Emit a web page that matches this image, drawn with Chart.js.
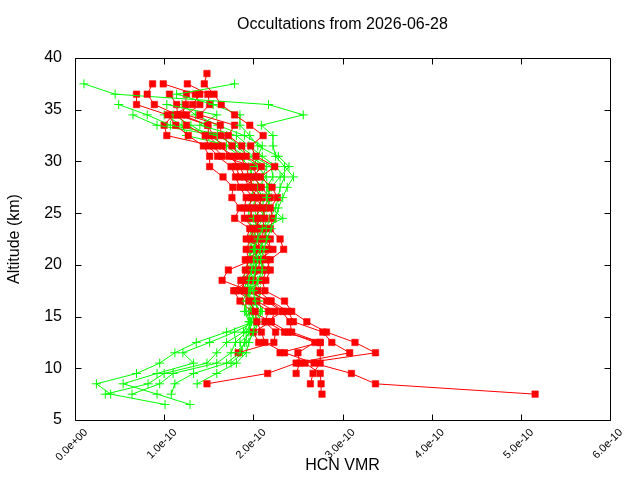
<!DOCTYPE html>
<html><head><meta charset="utf-8">
<script src="https://cdn.jsdelivr.net/npm/chart.js@4"></script>
<style>html,body{margin:0;padding:0;background:#fff}</style>
</head><body><canvas id="c" width="640" height="480"></canvas>
<script>
// HCN VMR values are given in units of 1e-10
const UNIT = 1e-10;
const redAlt = [7.5,8.5,9.5,10.5,11.5,12.5,13.5,14.5,15.5,16.5,17.5,18.5,19.5,20.5,21.5,22.5,23.5,24.5,25.5,26.5,27.5,28.5,29.5,30.5,31.5,32.5,33.5,34.5,35.5,36.5,37.5,38.5];
const red1 = [5.16,3.37,3.10,2.68,2.35,2.13,2.09,2.04,2.02,1.95,1.90,1.88,1.91,1.95,1.92,1.97,2.00,1.90,1.90,1.92,1.85,1.80,1.75,1.60,1.50,1.46,1.25,1.15,0.89,0.81,0.87,null];
const red2 = [2.77,2.76,2.75,2.58,3.37,3.14,2.82,2.60,2.43,2.35,2.13,2.10,2.15,2.19,2.34,2.30,2.19,2.22,2.19,2.27,2.21,2.08,2.24,2.03,1.97,2.11,1.96,1.79,1.64,1.56,1.45,1.48];
const red3 = [null,1.48,2.16,2.48,3.08,2.88,2.78,2.45,2.39,2.20,2.05,2.00,2.05,2.08,2.22,2.10,2.10,2.13,2.11,2.19,2.09,2.00,2.09,1.92,1.87,1.72,1.79,1.40,1.51,1.49,1.26,null];
const red4 = [null,2.64,2.67,2.75,2.75,2.75,2.43,2.41,2.32,2.15,1.95,1.65,1.72,2.00,2.07,2.05,2.05,2.05,2.05,2.10,2.00,1.95,1.92,1.85,1.76,1.64,1.63,1.25,1.40,1.35,0.99,null];
const red5 = [null,null,2.48,2.52,2.50,2.69,2.39,2.20,2.24,2.04,1.85,1.92,1.96,1.91,2.12,1.92,1.96,1.79,1.85,1.76,1.77,1.66,1.51,1.51,1.44,1.27,1.13,1.04,0.69,0.69,null,null];
const red6 = [null,null,null,null,1.83,2.23,2.25,2.13,2.17,2.00,1.80,1.86,2.00,2.05,2.00,2.15,2.13,1.95,2.00,2.05,1.95,1.90,1.85,1.73,1.65,1.55,1.49,1.20,1.24,1.25,null,null];
const red7 = [null,null,null,null,null,2.06,2.00,2.20,1.98,1.85,1.78,1.95,2.10,2.10,2.17,2.19,2.06,2.00,1.95,1.98,2.05,1.85,1.80,1.79,1.60,1.50,1.49,1.15,1.14,1.06,null,null];
const red8 = [null,null,null,null,2.30,2.75,2.35,2.15,2.33,2.19,1.90,2.14,2.19,2.15,2.07,2.00,2.02,2.08,2.14,2.00,1.90,2.04,2.00,1.65,1.55,1.03,1.00,1.10,1.32,1.40,null,null];

const greenAlt = [6.5,7.5,8.5,9.5,10.5,11.5,12.5,13.5,14.5,15.5,16.5,17.5,18.5,19.5,20.5,21.5,22.5,23.5,24.5,25.5,26.5,27.5,28.5,29.5,30.5,31.5,32.5,33.5,34.5,35.5,36.5,37.5];
const green1 = [1.01,0.40,0.24,0.69,0.95,1.12,1.36,1.70,2.00,2.05,2.02,2.00,2.05,2.10,2.08,2.12,2.15,2.20,2.25,2.28,2.33,2.38,2.45,2.35,2.25,2.22,2.22,2.09,2.56,2.17,0.45,0.10];
const green2 = [1.29,0.92,0.54,0.92,1.33,1.21,1.51,1.79,2.02,1.98,1.95,1.97,2.00,2.02,2.05,2.00,2.05,2.10,2.33,2.20,2.15,2.20,2.30,2.40,2.28,2.05,1.96,1.85,1.85,1.55,1.14,1.79];
const green3 = [null,0.34,0.82,1.00,1.48,1.59,1.70,1.89,1.95,1.90,1.92,1.95,1.98,2.05,2.00,2.08,2.12,2.15,2.18,2.25,2.28,2.30,2.35,2.25,2.10,1.95,1.81,1.40,1.59,1.03,null,null];
const green4 = [null,0.64,0.95,1.10,1.59,1.75,1.80,1.92,1.98,2.00,1.98,1.92,1.95,1.98,2.03,2.10,2.08,2.05,2.10,2.15,2.20,2.15,2.22,2.20,2.00,1.85,1.70,1.07,0.81,0.49,null,null];
const green5 = [null,1.08,1.12,1.33,1.70,1.85,1.90,1.95,1.97,1.95,2.05,2.08,2.02,1.95,1.98,2.02,2.00,2.05,2.00,2.10,2.12,2.18,2.10,2.15,1.95,1.80,1.60,0.92,0.65,null,null,null];
const green6 = [null,null,1.37,1.59,1.81,1.92,1.95,2.00,2.03,2.08,2.00,1.90,1.92,2.00,1.97,1.95,2.02,2.12,2.15,2.05,2.10,2.05,2.15,2.05,1.90,1.75,1.25,1.20,1.00,null,null,null];
const green7 = [null,null,null,null,1.75,1.88,1.85,1.97,1.96,1.92,1.88,1.94,2.08,2.12,2.10,2.05,1.98,2.00,2.05,2.00,2.02,2.10,2.00,1.95,1.85,1.70,1.50,1.30,1.10,null,null,null];
const green8 = [null,null,null,null,null,1.80,1.92,2.02,2.05,2.10,2.06,2.02,1.88,1.92,1.95,1.98,1.95,1.98,1.95,1.95,1.98,2.00,1.95,2.00,2.05,2.10,1.90,1.60,1.35,1.20,null,null];

const xTicks = [0,1,2,3,4,5,6];
const yTicks = [5,10,15,20,25,30,35,40];

const reds = [red1,red2,red3,red4,red5,red6,red7,red8];
const greens = [green1,green2,green3,green4,green5,green6,green7,green8];

function pts(vals, alts){
  const out=[];
  vals.forEach((v,i)=>{ if(v!==null) out.push({x:v*UNIT,y:alts[i]}); });
  return out;
}
const datasets=[];
for(let i=0;i<8;i++){
  datasets.push({data:pts(reds[i],redAlt),showLine:true,borderColor:'#ff0000',backgroundColor:'#ff0000',borderWidth:1,
    pointStyle:'rect',pointRadius:4.6,pointBorderWidth:0.5,pointBorderColor:'#ff0000',pointBackgroundColor:'#ff0000',tension:0});
  datasets.push({data:pts(greens[i],greenAlt),showLine:true,borderColor:'#00ff00',backgroundColor:'#00ff00',borderWidth:1,
    pointStyle:'cross',pointRadius:4.5,pointBorderWidth:1,pointBorderColor:'#00ff00',tension:0});
}

function fmt(v){
  let s = Number(v).toExponential(1);
  const m = s.match(/^(-?[\d.]+)e([+-])(\d+)$/);
  if(!m) return s;
  return m[1]+'e'+m[2]+(m[3].length<2?'0'+m[3]:m[3]);
}

const frame = {
  id:'frame',
  afterDatasetsDraw(chart){
    const {ctx, chartArea:a, scales:{x,y}} = chart;
    ctx.save();
    ctx.strokeStyle='#000'; ctx.lineWidth=1;
    const L=Math.round(a.left)+0.5, R=Math.round(a.right)+0.5, T=Math.round(a.top)+0.5, B=Math.round(a.bottom)+0.5;
    ctx.beginPath();
    ctx.rect(L,T,R-L,B-T);
    yTicks.forEach(t=>{
      const p=Math.round(y.getPixelForValue(t))+0.5;
      ctx.moveTo(L,p); ctx.lineTo(L+6,p);
      ctx.moveTo(R,p); ctx.lineTo(R-6,p);
    });
    xTicks.forEach(t=>{
      const p=Math.round(x.getPixelForValue(t*UNIT))+0.5;
      ctx.moveTo(p,B); ctx.lineTo(p,B-6);
      ctx.moveTo(p,T); ctx.lineTo(p,T+6);
    });
    ctx.stroke();
    ctx.restore();
  }
};

const font='Liberation Sans';
new Chart(document.getElementById('c').getContext('2d'),{
  type:'scatter',
  data:{datasets},
  options:{
    responsive:false, animation:false,
    layout:{padding:{left:0,right:30,top:0,bottom:0}},
    plugins:{
      legend:{display:false}, tooltip:{enabled:false},
      title:{display:true,fullSize:false,text:'Occultations from 2026-06-28',color:'#000',
        font:{family:font,size:16,weight:'normal'},padding:{top:15.4,bottom:23.4}}
    },
    scales:{
      x:{type:'linear',min:0,max:6*UNIT,
        afterFit(s){s.height=60;},
        afterBuildTicks(s){s.ticks=xTicks.map(v=>({value:v*UNIT}));},
        ticks:{autoSkip:false,minRotation:45,maxRotation:45,callback:fmt,color:'#000',
          font:{family:font,size:11},padding:6,labelOffset:11},
        grid:{display:false,drawTicks:false}, border:{display:false},
        title:{display:true,text:'HCN VMR',color:'#000',font:{family:font,size:16},padding:{top:0,bottom:5}}
      },
      y:{type:'linear',min:5,max:40,
        afterFit(s){s.width=75;},
        afterBuildTicks(s){s.ticks=yTicks.map(v=>({value:v}));},
        ticks:{autoSkip:false,color:'#000',font:{family:font,size:16},padding:13},
        grid:{display:false,drawTicks:false}, border:{display:false},
        title:{display:true,text:'Altitude (km)',color:'#000',font:{family:font,size:16},padding:{top:5,bottom:0}}
      }
    }
  },
  plugins:[frame]
});
</script>
</body></html>
